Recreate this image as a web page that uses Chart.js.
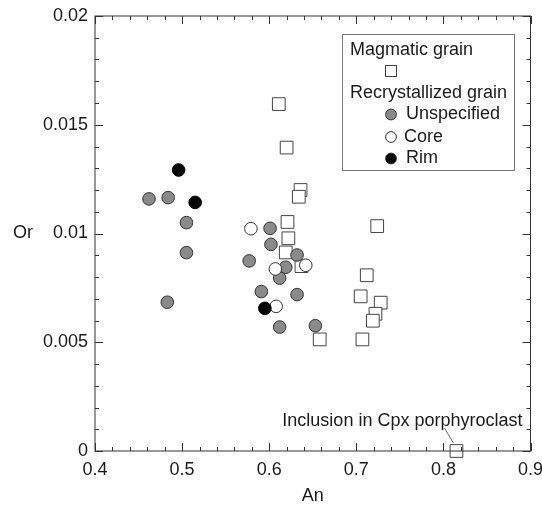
<!DOCTYPE html>
<html>
<head>
<meta charset="utf-8">
<script src="https://cdn.jsdelivr.net/npm/chart.js@4/dist/chart.umd.min.js"></script>
<style>
  html, body { margin: 0; padding: 0; background: #fff; }
  #wrap { width: 542px; height: 505px; }
</style>
</head>
<body>
<div id="wrap"><canvas id="plot" width="542" height="505"></canvas></div>
<script>
// values (An vs Or)
const magmaticAn = [0.611, 0.620, 0.636, 0.634, 0.621, 0.622, 0.619, 0.637, 0.724, 0.712, 0.705, 0.728, 0.722, 0.719, 0.658, 0.707, 0.815];
const magmaticOr = [0.01595, 0.01395, 0.0120, 0.01169, 0.01053, 0.00978, 0.00913, 0.0085, 0.01034, 0.00808, 0.00711, 0.00682, 0.00631, 0.00599, 0.00513, 0.00513, 0.0];

const unspecifiedAn = [0.462, 0.484, 0.505, 0.505, 0.483, 0.601, 0.602, 0.577, 0.632, 0.619, 0.612, 0.591, 0.632, 0.612, 0.653];
const unspecifiedOr = [0.01159, 0.01165, 0.0105, 0.00912, 0.00684, 0.01024, 0.0095, 0.00874, 0.00901, 0.00845, 0.00795, 0.00733, 0.00719, 0.0057, 0.00576];

const coreAn = [0.579, 0.642, 0.607, 0.608];
const coreOr = [0.01022, 0.00854, 0.00837, 0.00665];

const rimAn = [0.496, 0.515, 0.595];
const rimOr = [0.01292, 0.01143, 0.00656];

const xTicks = [0.4, 0.5, 0.6, 0.7, 0.8, 0.9];
const yTicks = [0, 0.005, 0.01, 0.015, 0.02];

const inclusionLabel = 'Inclusion in Cpx porphyroclast';

const FONT = '"Liberation Sans", Arial, Helvetica, sans-serif';
const GRAY = '#8a8a8a';
const EDGE = '#333';

function pairs(xs, ys) {
  return xs.map((x, i) => ({ x: x, y: ys[i] }));
}

// frame, inside ticks on all four sides, axis titles, annotation and legend
const decor = {
  id: 'decor',
  afterDraw(chart) {
    const ctx = chart.ctx;
    const a = chart.chartArea;
    const xs = chart.scales.x, ys = chart.scales.y;
    ctx.save();
    ctx.strokeStyle = '#333';
    ctx.lineWidth = 1;
    ctx.strokeRect(a.left, a.top, a.right - a.left, a.bottom - a.top);

    ctx.beginPath();
    for (let i = 0; i <= 25; i++) {
      const v = xs.min + i * 0.02;
      const px = Math.round(xs.getPixelForValue(v)) + 0.5;
      const len = i % 5 === 0 ? 8 : 4;
      ctx.moveTo(px, a.bottom); ctx.lineTo(px, a.bottom - len);
      ctx.moveTo(px, a.top); ctx.lineTo(px, a.top + len);
    }
    for (let i = 0; i <= 20; i++) {
      const v = ys.min + i * 0.001;
      const py = Math.round(ys.getPixelForValue(v)) + 0.5;
      const len = i % 5 === 0 ? 8 : 4;
      ctx.moveTo(a.left, py); ctx.lineTo(a.left + len, py);
      ctx.moveTo(a.right, py); ctx.lineTo(a.right - len, py);
    }
    ctx.stroke();

    ctx.fillStyle = '#1a1a1a';
    ctx.font = '18px ' + FONT;
    ctx.textBaseline = 'middle';
    ctx.textAlign = 'center';
    ctx.fillText('An', (a.left + a.right) / 2, 496);
    ctx.textAlign = 'left';
    ctx.fillText('Or', 13, (a.top + a.bottom) / 2);

    // annotation for the inclusion grain
    const last = magmaticAn.length - 1;
    const qx = xs.getPixelForValue(magmaticAn[last]);
    const qy = ys.getPixelForValue(magmaticOr[last]);
    ctx.textAlign = 'right';
    ctx.textBaseline = 'alphabetic';
    ctx.fillText(inclusionLabel, qx + 66, qy - 25);
    ctx.strokeStyle = '#666';
    ctx.beginPath();
    ctx.moveTo(qx - 12, qy - 23);
    ctx.lineTo(qx - 3, qy - 8);
    ctx.stroke();

    // legend box
    ctx.fillStyle = '#fff';
    ctx.fillRect(342.5, 34.5, 172, 136);
    ctx.strokeStyle = '#777';
    ctx.strokeRect(342.5, 34.5, 172, 136);
    ctx.fillStyle = '#1a1a1a';
    ctx.textAlign = 'left';
    ctx.textBaseline = 'middle';
    ctx.fillText('Magmatic grain', 350, 50);
    ctx.fillText('Recrystallized grain', 350, 93);
    ctx.fillText('Unspecified', 406, 114.5);
    ctx.fillText('Core', 404, 137);
    ctx.fillText('Rim', 406, 158.5);

    ctx.lineWidth = 1;
    ctx.strokeStyle = '#444';
    ctx.fillStyle = '#fff';
    ctx.fillRect(385, 65, 11, 11);
    ctx.strokeRect(385.5, 65.5, 11, 11);
    const marks = [[114.5, GRAY], [137, '#fff'], [158.5, '#000']];
    marks.forEach(m => {
      ctx.beginPath();
      ctx.arc(391, m[0], 5.4, 0, Math.PI * 2);
      ctx.fillStyle = m[1];
      ctx.fill();
      ctx.strokeStyle = EDGE;
      ctx.stroke();
    });
    ctx.restore();
  }
};

new Chart(document.getElementById('plot'), {
  type: 'scatter',
  data: {
    datasets: [
      { label: 'Rim', data: pairs(rimAn, rimOr), pointStyle: 'circle', pointRadius: 6.3,
        backgroundColor: '#000', borderColor: '#000', borderWidth: 1, order: 1 },
      { label: 'Core', data: pairs(coreAn, coreOr), pointStyle: 'circle', pointRadius: 6.3,
        backgroundColor: '#fff', borderColor: EDGE, borderWidth: 1, order: 2 },
      { label: 'Unspecified', data: pairs(unspecifiedAn, unspecifiedOr), pointStyle: 'circle', pointRadius: 6.3,
        backgroundColor: GRAY, borderColor: EDGE, borderWidth: 1, order: 3 },
      { label: 'Magmatic grain', data: pairs(magmaticAn, magmaticOr), pointStyle: 'rect', pointRadius: 9,
        backgroundColor: '#fff', borderColor: '#444', borderWidth: 1, order: 4 }
    ]
  },
  options: {
    responsive: false,
    animation: false,
    clip: false,
    layout: { padding: { top: 16, right: 11.5, left: 0, bottom: 0 } },
    plugins: { legend: { display: false }, tooltip: { enabled: false } },
    scales: {
      x: {
        type: 'linear', min: 0.4, max: 0.9,
        grid: { display: false, drawTicks: false },
        border: { display: false },
        afterBuildTicks: s => { s.ticks = xTicks.map(v => ({ value: v })); },
        afterFit: s => { s.height = 54; s.paddingLeft = 0; s.paddingRight = 0; },
        ticks: { padding: 8, color: '#1a1a1a', font: { family: FONT, size: 18 }, maxRotation: 0,
          callback: v => v.toFixed(1) }
      },
      y: {
        type: 'linear', min: 0, max: 0.02,
        grid: { display: false, drawTicks: false },
        border: { display: false },
        afterBuildTicks: s => { s.ticks = yTicks.map(v => ({ value: v })); },
        afterFit: s => { s.width = 95; s.paddingTop = 0; s.paddingBottom = 0; },
        ticks: { padding: 7, color: '#1a1a1a', font: { family: FONT, size: 18 },
          callback: v => String(+v.toFixed(3)) }
      }
    }
  },
  plugins: [decor]
});
</script>
</body>
</html>
